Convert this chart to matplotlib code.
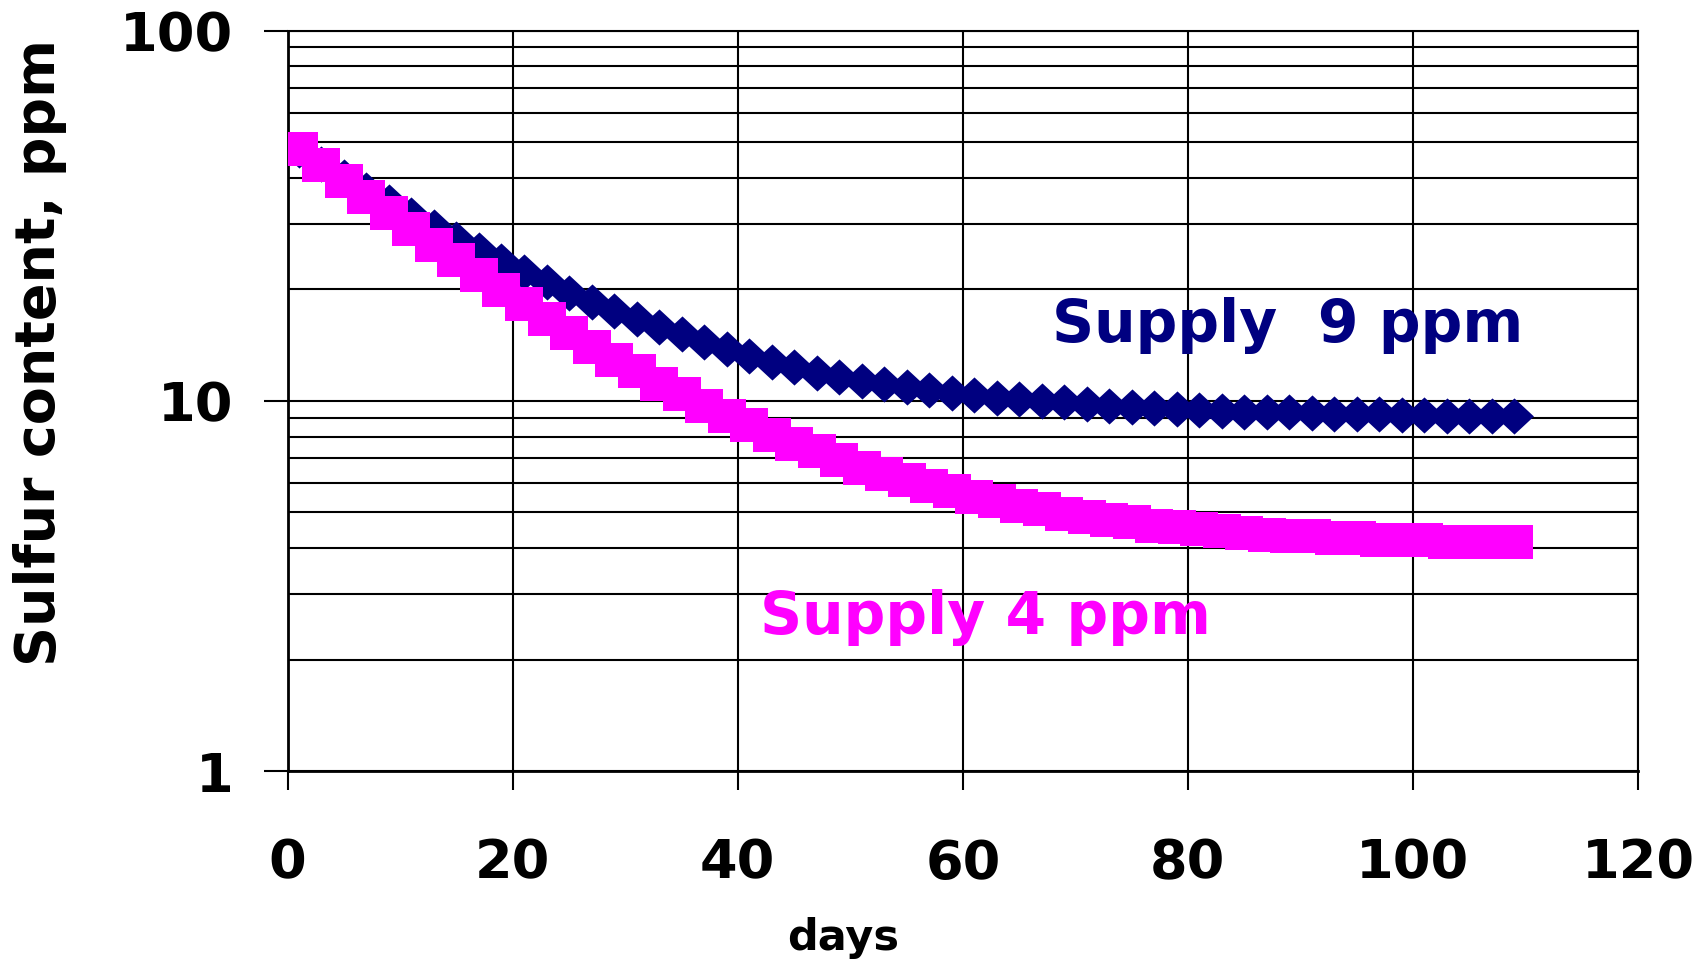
import matplotlib
matplotlib.use("Agg")
import matplotlib.pyplot as plt
from matplotlib.path import Path
from matplotlib.ticker import LogLocator, NullFormatter, FixedLocator

# ---- data ----
days = [1, 3, 5, 7, 9, 11, 13, 15, 17, 19, 21, 23, 25, 27, 29, 31, 33, 35, 37, 39,
        41, 43, 45, 47, 49, 51, 53, 55, 57, 59, 61, 63, 65, 67, 69, 71, 73, 75, 77, 79,
        81, 83, 85, 87, 89, 91, 93, 95, 97, 99, 101, 103, 105, 107, 109]

supply9 = [47.5, 43.7, 40.3, 37.2, 34.4, 31.8, 29.5, 27.4, 25.5, 23.8,
           22.3, 20.9, 19.6, 18.5, 17.5, 16.6, 15.8, 15.1, 14.4, 13.8,
           13.2, 12.7, 12.3, 11.9, 11.6, 11.3, 11.1, 10.9, 10.7, 10.5,
           10.35, 10.2, 10.1, 10.0, 9.9, 9.8, 9.7, 9.6, 9.55, 9.5,
           9.45, 9.4, 9.35, 9.3, 9.3, 9.25, 9.2, 9.2, 9.2, 9.15,
           9.15, 9.1, 9.1, 9.1, 9.1]

supply4 = [48.0, 43.3, 39.2, 35.5, 32.1, 29.1, 26.4, 24.0, 21.8, 19.9,
           18.2, 16.6, 15.2, 14.0, 12.9, 12.0, 11.1, 10.4, 9.7, 9.1,
           8.6, 8.1, 7.65, 7.3, 6.9, 6.6, 6.35, 6.1, 5.9, 5.7,
           5.5, 5.35, 5.2, 5.1, 4.95, 4.85, 4.75, 4.7, 4.6, 4.55,
           4.5, 4.45, 4.4, 4.35, 4.3, 4.3, 4.25, 4.25, 4.2, 4.2,
           4.2, 4.15, 4.15, 4.15, 4.15]

x_ticks = [0, 20, 40, 60, 80, 100, 120]
y_ticks = [1, 10, 100]
y_tick_labels = ["1", "10", "100"]

NAVY = "#000080"
MAGENTA = "#FF00FF"

W, H = 1707, 965
plt.rcParams['font.family'] = ['DejaVu Sans']
plt.rcParams['font.weight'] = 'bold'

fig = plt.figure(figsize=(W / 100, H / 100), dpi=100)
left, right, top, bottom = 287.7, 1638.0, 30.5, 771.0
ax = fig.add_axes([left / W, 1 - bottom / H, (right - left) / W, (bottom - top) / H])

# custom markers (slightly wider than tall, as in reference)
rect = Path([(-1, -0.89), (1, -0.89), (1, 0.89), (-1, 0.89), (-1, -0.89)],
            [Path.MOVETO, Path.LINETO, Path.LINETO, Path.LINETO, Path.CLOSEPOLY])
diamond = Path([(-1, 0), (0, -0.93), (1, 0), (0, 0.93), (-1, 0)],
               [Path.MOVETO, Path.LINETO, Path.LINETO, Path.LINETO, Path.CLOSEPOLY])

ax.plot(days, supply9, linestyle='none', marker=diamond, markersize=28,
        color=NAVY, markeredgewidth=0, zorder=3)
ax.plot(days, supply4, linestyle='none', marker=rect, markersize=27,
        color=MAGENTA, markeredgewidth=0, zorder=4)

ax.set_yscale('log')
ax.set_ylim(1, 100)
ax.set_xlim(0, 120)
ax.set_xticks(x_ticks)
ax.xaxis.set_major_formatter(plt.FixedFormatter([str(v) for v in x_ticks]))
ax.yaxis.set_major_locator(FixedLocator(y_ticks))
ax.set_yticklabels(y_tick_labels)
ax.yaxis.set_minor_locator(LogLocator(base=10, subs=range(2, 10)))
ax.yaxis.set_minor_formatter(NullFormatter())

ax.set_axisbelow(True)
ax.grid(which='both', axis='y', color='black', linewidth=1.5)
ax.grid(which='major', axis='x', color='black', linewidth=1.5)

for s in ['left', 'bottom']:
    ax.spines[s].set_linewidth(2.0)
for s in ['top', 'right']:
    ax.spines[s].set_linewidth(1.5)

ax.tick_params(axis='y', which='major', direction='out', length=17, width=1.5,
               pad=22, labelsize=39)
ax.tick_params(axis='y', which='minor', length=0)
ax.tick_params(axis='x', which='major', direction='out', length=14, width=1.5,
               pad=34, labelsize=39)
for lbl in ax.get_xticklabels() + ax.get_yticklabels():
    lbl.set_fontweight('bold')

# axis titles
fig.text(40 / W, 1 - 352 / H, "Sulfur content, ppm", rotation=90, ha='center',
         va='center', fontsize=40, fontweight='bold', color='black')
fig.text(843 / W, 1 - 938 / H, "days", ha='center', va='center',
         fontsize=31, fontweight='bold', color='black')

# annotations
fig.text(1052 / W, 1 - 342 / H, "Supply  9 ppm", ha='left', va='baseline',
         fontsize=42, fontweight='bold', color=NAVY, zorder=5)
fig.text(760 / W, 1 - 634 / H, "Supply 4 ppm", ha='left', va='baseline',
         fontsize=42, fontweight='bold', color=MAGENTA, zorder=5)

fig.savefig("out.png", dpi=100, facecolor='white')
